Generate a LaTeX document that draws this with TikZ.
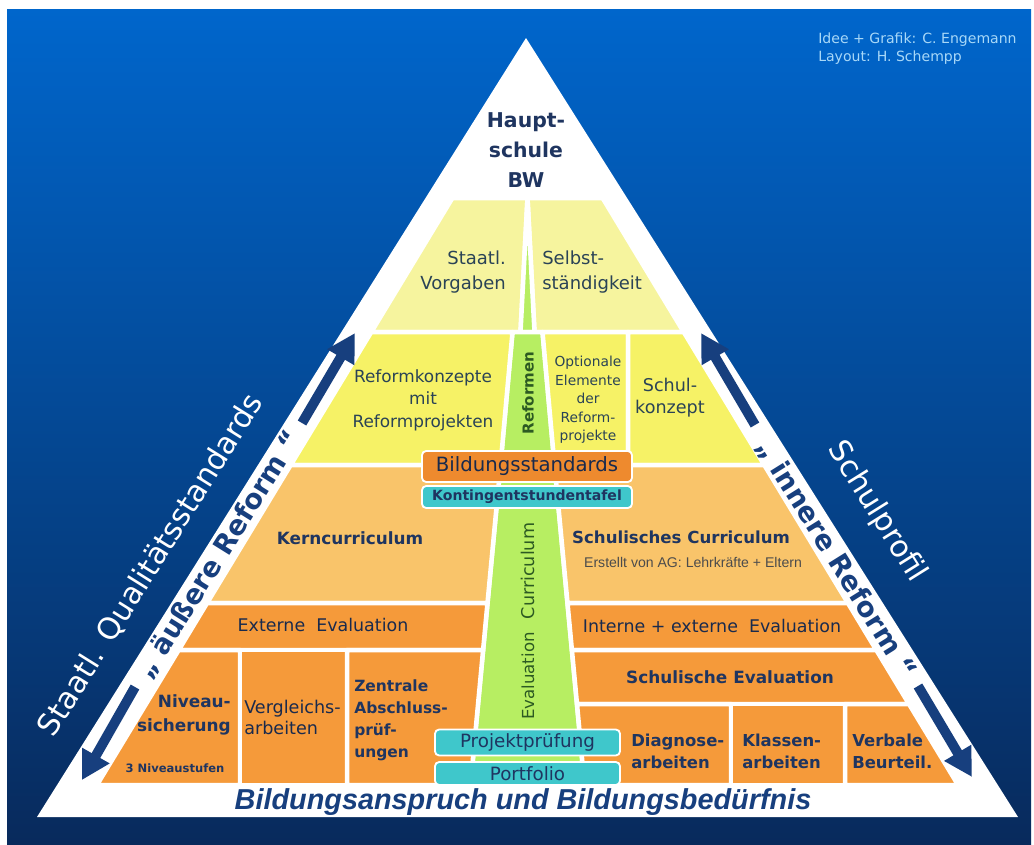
\documentclass[tikz,border=0pt]{standalone}
\usepackage{fontspec}
\setmainfont{DejaVu Sans}
\newfontfamily\arialfont{Liberation Sans}
\usetikzlibrary{arrows.meta}
\definecolor{bgtop}{HTML}{0066CC}
\definecolor{bgmid}{HTML}{0B4E9E}
\definecolor{bgbot}{HTML}{082A5C}
\definecolor{yelA}{HTML}{F6F49E}
\definecolor{yelB}{HTML}{F6F266}
\definecolor{orgA}{HTML}{F9C46A}
\definecolor{orgB}{HTML}{F59A3A}
\definecolor{orgC}{HTML}{EE8A2E}
\definecolor{lime}{HTML}{B7EE62}
\definecolor{teal}{HTML}{3FC7CB}
\definecolor{navy}{HTML}{1F3560}
\definecolor{slate}{HTML}{2A4356}
\definecolor{leaf}{HTML}{2C5A22}
\definecolor{arrblue}{HTML}{173F7E}
\definecolor{credit}{HTML}{A8D8F8}
\newcommand\fsz[2]{\fontsize{#1pt}{#2pt}\selectfont}

\begin{document}
\begin{tikzpicture}[x=0.025cm, y=-0.025cm,
  blk/.style={draw=white, line width=3.2pt, line join=round},
  txt/.style={inner sep=0pt, text=slate, font=\fsz{12.8}{17.8}},
  bold/.style={inner sep=0pt, text=navy, font=\bfseries\fsz{12}{17}},
  side/.style={inner sep=0pt, font=\fsz{21.5}{26}},
  tag/.style={draw=white, line width=1.3pt, rounded corners=3pt, inner sep=0pt, outer sep=0pt},
  arr/.style={draw=arrblue, line width=7pt, -{Triangle[length=20pt,width=21pt]}}]
\useasboundingbox (0,0) rectangle (1034,844);
\shade[top color=bgtop, middle color=bgmid, bottom color=bgbot] (7,9) rectangle (1031,844);
\fill[white] (526,38) -- (1018,817) -- (37,817) -- cycle;

\filldraw[blk, fill=yelA] (452.4,198) -- (527.5,198) -- (520.5,332) -- (371.3,332) -- cycle;
\filldraw[blk, fill=yelA] (527.5,198) -- (602.6,198) -- (683.7,332) -- (534.5,332) -- cycle;
\filldraw[blk, fill=lime] (527.5,198) -- (534.5,332) -- (520.5,332) -- cycle;
\filldraw[blk, fill=lime] (512.5,332) -- (542.5,332) -- (554.5,465) -- (500.5,465) -- cycle;
\filldraw[blk, fill=yelB] (371.3,332) -- (512.5,332) -- (500.5,465) -- (290.7,465) -- cycle;
\filldraw[blk, fill=yelB] (542.5,332) -- (628,332) -- (628,465) -- (554.5,465) -- cycle;
\filldraw[blk, fill=yelB] (628,332) -- (683.7,332) -- (764.3,465) -- (628,465) -- cycle;
\filldraw[blk, fill=lime] (500.5,465) -- (554.5,465) -- (584.5,785) -- (470.5,785) -- cycle;
\filldraw[blk, fill=orgA] (290.7,465) -- (500.5,465) -- (487.5,603) -- (207.1,603) -- cycle;
\filldraw[blk, fill=orgA] (554.5,465) -- (764.3,465) -- (847.9,603) -- (567.5,603) -- cycle;
\filldraw[blk, fill=orgB] (207.1,603) -- (487.5,603) -- (483.1,650) -- (178.7,650) -- cycle;
\filldraw[blk, fill=orgB] (567.5,603) -- (847.9,603) -- (876.3,650) -- (571.9,650) -- cycle;
\filldraw[blk, fill=orgB] (178.7,650) -- (240,650) -- (240,785) -- (96.9,785) -- cycle;
\filldraw[blk, fill=orgB] (240,650) -- (347,650) -- (347,785) -- (240,785) -- cycle;
\filldraw[blk, fill=orgB] (347,650) -- (483.1,650) -- (470.5,785) -- (347,785) -- cycle;
\filldraw[blk, fill=orgB] (571.9,650) -- (876.3,650) -- (909,704) -- (577,704) -- cycle;
\filldraw[blk, fill=orgB] (577,704) -- (731,704) -- (731,785) -- (584.5,785) -- cycle;
\filldraw[blk, fill=orgB] (731,704) -- (845,704) -- (845,785) -- (731,785) -- cycle;
\filldraw[blk, fill=orgB] (845,704) -- (909,704) -- (958.1,785) -- (845,785) -- cycle;

\node[tag, fill=orgC, minimum width=5.25cm, minimum height=0.775cm, text=navy!80!black, font=\fsz{14}{17}] (bstd) at (527,466.5) {Bildungsstandards};
\node[tag, fill=teal, minimum width=5.25cm, minimum height=0.55cm, text=navy, font=\bfseries\fsz{10}{12}] (ktaf) at (527,497) {Kontingentstundentafel};
\node[tag, fill=teal, minimum width=4.625cm, minimum height=0.65cm, text=navy, font=\fsz{13}{15}] (ppr) at (527.5,742.5) {Projektprüfung};
\node[tag, fill=teal, minimum width=4.625cm, minimum height=0.575cm, text=navy, font=\fsz{13}{15}] (pfo) at (527.5,773.5) {Portfolio};

\node[bold, align=center, font=\bfseries\fsz{14.5}{21.3}] (hs) at (526,150) {Haupt-\\schule\\BW};
\node[txt, align=right, anchor=east] (stv) at (506,272.5) {Staatl.\\Vorgaben};
\node[txt, align=left, anchor=west] (sst) at (542,272.5) {Selbst-\\ständigkeit};
\node[txt, align=center, font=\fsz{12}{16}] (rfk) at (423,400) {Reformkonzepte\\mit\\Reformprojekten};
\node[txt, text=leaf, rotate=90, font=\bfseries\fsz{10.7}{13}] (rfm) at (528,393) {Reformen};
\node[txt, align=center, font=\fsz{9.8}{13.2}] (opt) at (588,400) {Optionale\\Elemente\\der\\Reform-\\projekte};
\node[txt, align=center, font=\fsz{12.5}{15.6}] (skz) at (670,398) {Schul-\\konzept};

\node[bold] (kcu) at (350,538) {Kerncurriculum};
\node[bold, font=\bfseries\fsz{11.8}{14}] (scu) at (681,537) {Schulisches Curriculum};
\node[inner sep=0pt, text=black!70, font=\arialfont\fsz{10}{12}] (ags) at (693,562) {Erstellt von AG: Lehrkräfte + Eltern};
\node[txt, text=leaf, rotate=90, font=\fsz{12.5}{14}] (cur) at (528,571) {Curriculum};
\node[txt, text=leaf, rotate=90, font=\fsz{11.8}{14}] (evl) at (528,676) {Evaluation};
\node[txt, text=navy!80!black, font=\fsz{12.4}{15}] (exe) at (323,625) {Externe\ \ Evaluation};
\node[txt, text=navy!80!black, font=\fsz{12.4}{15}] (ine) at (712,626) {Interne + externe\ \ Evaluation};

\node[bold, align=right, anchor=east] (nvs) at (231,715) {Niveau-\\sicherung};
\node[bold, font=\bfseries\fsz{8.2}{10}] (nst) at (175,768) {3 Niveaustufen};
\node[txt, text=navy!80!black, align=left, anchor=west, font=\fsz{12.5}{15}] (vga) at (244,717.5) {Vergleichs-\\arbeiten};
\node[bold, align=left, anchor=west, font=\bfseries\fsz{11}{15.6}] (zap) at (354,720.5) {Zentrale\\Abschluss-\\prüf-\\ungen};
\node[bold] (sev) at (730,677) {Schulische Evaluation};
\node[bold, align=left, anchor=west, font=\bfseries\fsz{11.7}{15.6}] (dga) at (631,751) {Diagnose-\\arbeiten};
\node[bold, align=left, anchor=west, font=\bfseries\fsz{11.7}{15.6}] (kla) at (742,751) {Klassen-\\arbeiten};
\node[bold, align=left, anchor=west, font=\bfseries\fsz{11.7}{15.6}] (vbb) at (852,751) {Verbale\\Beurteil.};

\node[inner sep=0pt, text=arrblue, font=\arialfont\bfseries\itshape\fsz{20.5}{24}] (bab) at (523,802) {Bildungsanspruch und Bildungsbedürfnis};

\node[side, text=white, rotate=58] (sqs) at (151,565) {Staatl. Qualitätsstandards};
\node[side, text=arrblue, rotate=58, font=\bfseries\fsz{19.5}{24}] (aer) at (219,555) {„ äußere Reform “};
\node[side, text=white, rotate=-58] (spf) at (877,512) {Schulprofil};
\node[side, text=arrblue, rotate=-58, font=\bfseries\fsz{19.5}{24}] (ier) at (836,559) {„ innere Reform “};

\coordinate (lupS) at (302,423);
\coordinate (lupT) at (355,333);
\coordinate (ldnS) at (135,687);
\coordinate (ldnT) at (82,780);
\coordinate (rupS) at (755,425);
\coordinate (rupT) at (701,333);
\coordinate (rdnS) at (918,686);
\coordinate (rdnT) at (972,777);
\draw[arr] (lupS) -- (lupT);
\draw[arr] (ldnS) -- (ldnT);
\draw[arr] (rupS) -- (rupT);
\draw[arr] (rdnS) -- (rdnT);

\node[inner sep=0pt, text=credit, align=left, anchor=west, font=\fsz{10}{12.5}] (crd) at (818,48.5) {Idee + Grafik: C. Engemann\\Layout: H. Schempp};
\end{tikzpicture}
\end{document}
